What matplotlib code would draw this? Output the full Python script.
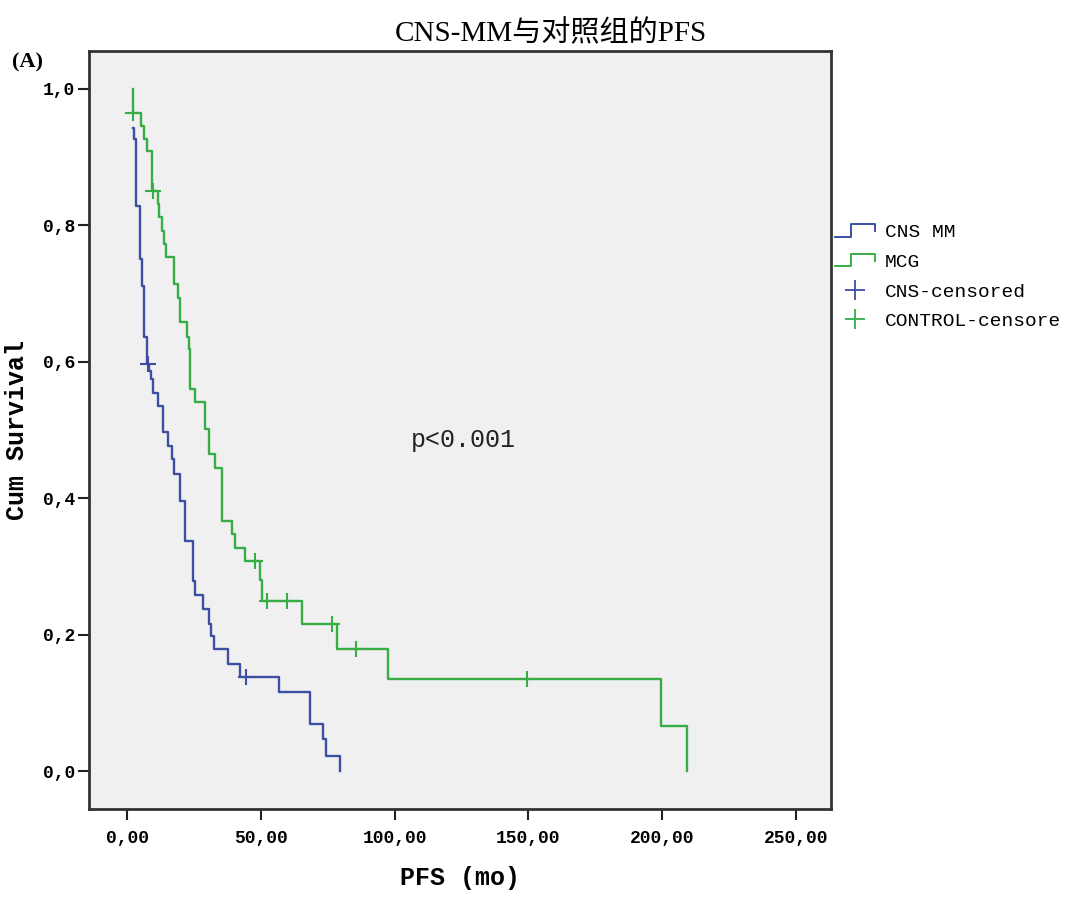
import numpy as np
import matplotlib
matplotlib.use('Agg')
import matplotlib.pyplot as plt
from matplotlib.lines import Line2D
from matplotlib.legend_handler import HandlerBase
from matplotlib.ticker import FuncFormatter

# step points (time in months, survival after the event)
cns_time = [2.1, 2.6, 3.4, 4.9, 5.7, 6.5, 7.4, 8.2, 9.0, 9.9, 11.7, 13.6, 15.5, 16.7, 17.7,
            19.9, 21.5, 24.5, 25.5, 28.3, 30.5, 31.3, 32.6, 37.6, 42.3, 56.7, 68.5, 73.3, 74.5, 79.5]
cns_surv = [0.943, 0.926, 0.829, 0.751, 0.711, 0.636, 0.597, 0.587, 0.575, 0.555, 0.536, 0.497, 0.477,
            0.458, 0.436, 0.397, 0.338, 0.279, 0.258, 0.238, 0.216, 0.199, 0.180, 0.158, 0.139, 0.116,
            0.070, 0.048, 0.023, 0.0]
cns_cens_time = [7.7, 44.6]
cns_cens_surv = [0.597, 0.139]

mcg_time = [2.1, 2.1, 5.1, 6.5, 7.4, 9.2, 11.4, 12.1, 13.0, 13.9, 14.6, 17.6, 19.2, 19.9, 22.4, 23.3,
            23.6, 25.5, 29.2, 30.5, 33.0, 35.5, 39.2, 40.4, 44.2, 49.6, 50.4, 65.4, 78.5, 97.5, 199.4, 209.4]
mcg_surv = [1.0, 0.964, 0.946, 0.926, 0.909, 0.851, 0.831, 0.812, 0.792, 0.773, 0.754, 0.714, 0.694,
            0.658, 0.636, 0.619, 0.560, 0.541, 0.502, 0.465, 0.445, 0.367, 0.348, 0.328, 0.309, 0.280,
            0.250, 0.216, 0.180, 0.135, 0.067, 0.0]
mcg_cens_time = [2.4, 9.6, 47.9, 52.3, 59.6, 76.7, 85.4, 149.4]
mcg_cens_surv = [0.964, 0.851, 0.309, 0.250, 0.250, 0.216, 0.180, 0.135]

x_ticks = [0, 50, 100, 150, 200, 250]
y_ticks = [0.0, 0.2, 0.4, 0.6, 0.8, 1.0]
legend_labels = ['CNS MM', 'MCG', 'CNS-censored', 'CONTROL-censore']

blue = '#3c4fa3'
green = '#36ad45'
mono = 'Liberation Mono'


class StepHandler(HandlerBase):
    # little step icon like the SPSS legend
    def create_artists(self, legend, orig_handle, xdescent, ydescent, width, height, fontsize, trans):
        x = np.array([0, 0.4, 0.4, 1.0, 1.0]) * width - xdescent
        y = np.array([0.05, 0.05, 0.95, 0.95, 0.45]) * height - ydescent
        ln = Line2D(x, y, color=orig_handle.get_color(), lw=1.4)
        ln.set_transform(trans)
        return [ln]


fig = plt.figure(figsize=(10.8, 8.99), dpi=100)
ax = fig.add_axes([0.0824, 0.1001, 0.687, 0.8435])
ax.set_facecolor('#f0f0f0')

ax.plot(cns_time, cns_surv, drawstyle='steps-post', color=blue, lw=1.7)
ax.plot(mcg_time, mcg_surv, drawstyle='steps-post', color=green, lw=1.7)
ax.plot(cns_cens_time, cns_cens_surv, '+', color=blue, ms=11, mew=1.5)
ax.plot(mcg_cens_time, mcg_cens_surv, '+', color=green, ms=11, mew=1.5)

ax.set_xlim(-14.2, 263)
ax.set_ylim(-0.055, 1.056)
ax.set_xticks(x_ticks)
ax.set_yticks(y_ticks)
ax.xaxis.set_major_formatter(FuncFormatter(lambda v, p: f'{v:.2f}'.replace('.', ',')))
ax.yaxis.set_major_formatter(FuncFormatter(lambda v, p: f'{v:.1f}'.replace('.', ',')))
ax.tick_params(direction='out', length=8, width=1.5, color='#222222')
for lab in ax.get_xticklabels() + ax.get_yticklabels():
    lab.set_family(mono)
    lab.set_fontweight('bold')
    lab.set_fontsize(13)
ax.tick_params(axis='x', pad=7)
ax.tick_params(axis='y', pad=2)

for sp in ax.spines.values():
    sp.set_color('#333333')
    sp.set_linewidth(2)

ax.set_xlabel('PFS (mo)', family=mono, fontweight='bold', fontsize=18, labelpad=14)
ax.set_ylabel('Cum Survival', family=mono, fontweight='bold', fontsize=18, labelpad=10)

ax.text(106, 0.486, 'p<0.001', family=mono, fontsize=18, va='center', color='#222222')

handles = [Line2D([], [], color=blue), Line2D([], [], color=green),
           Line2D([], [], marker='+', ls='none', color=blue, ms=14, mew=1.3),
           Line2D([], [], marker='+', ls='none', color=green, ms=14, mew=1.3)]
leg = ax.legend(handles, legend_labels, loc='upper left', bbox_to_anchor=(1.005, 0.772),
                frameon=False, prop={'family': mono, 'size': 14}, handlelength=2.1,
                handletextpad=0.5, labelspacing=0.62, borderpad=0, borderaxespad=0,
                handler_map={handles[0]: StepHandler(), handles[1]: StepHandler()})

fig.text(0.51, 0.963, 'CNS-MM与对照组的PFS', ha='center', va='center', fontsize=21,
         family=['Liberation Serif', 'Noto Sans CJK SC'])
fig.text(0.011, 0.931, '(A)', ha='left', va='center', fontsize=16, fontweight='bold',
         family='Liberation Serif')

fig.savefig('out.png', dpi=100)
